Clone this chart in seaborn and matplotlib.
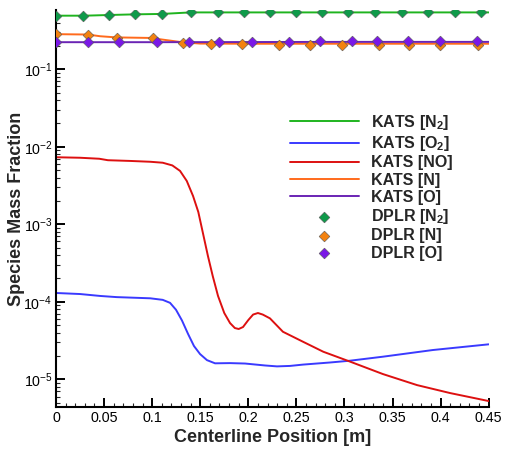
import numpy as np
import matplotlib
matplotlib.use("Agg")
import matplotlib.pyplot as plt
from matplotlib.ticker import LogLocator, MultipleLocator, NullFormatter
import seaborn as sns

# ---- KATS centerline profiles (solid lines) ----
kats_n2_x = [0.0, 0.03, 0.055, 0.083, 0.11, 0.14, 0.17, 0.45]
kats_n2_y = [0.490, 0.490, 0.500, 0.510, 0.516, 0.540, 0.540, 0.540]

kats_o2_x = [0.0, 0.025, 0.046, 0.063, 0.098, 0.111, 0.1186, 0.1248, 0.131, 0.1373,
             0.1435, 0.1498, 0.157, 0.1654, 0.181, 0.1966, 0.2174, 0.2298, 0.2434,
             0.2569, 0.285, 0.3058, 0.340, 0.392, 0.45]
kats_o2_y = [1.30e-4, 1.26e-4, 1.19e-4, 1.15e-4, 1.11e-4, 1.06e-4, 9.7e-5, 7.9e-5,
             5.75e-5, 3.86e-5, 2.69e-5, 2.12e-5, 1.77e-5, 1.61e-5, 1.62e-5, 1.60e-5,
             1.51e-5, 1.47e-5, 1.49e-5, 1.55e-5, 1.65e-5, 1.74e-5, 1.96e-5, 2.39e-5,
             2.83e-5]

kats_no_x = [0.0, 0.025, 0.045, 0.054, 0.077, 0.098, 0.111, 0.121, 0.129, 0.136,
             0.1425, 0.148, 0.153, 0.158, 0.163, 0.1685, 0.175, 0.181, 0.186, 0.190,
             0.1945, 0.200, 0.205, 0.210, 0.215, 0.2225, 0.236, 0.257, 0.278, 0.306,
             0.340, 0.3755, 0.410, 0.45]
kats_no_y = [7.32e-3, 7.21e-3, 7.00e-3, 6.70e-3, 6.56e-3, 6.40e-3, 6.22e-3, 5.74e-3,
             4.88e-3, 3.62e-3, 2.32e-3, 1.44e-3, 7.50e-4, 3.90e-4, 2.15e-4, 1.19e-4,
             7.17e-5, 5.32e-5, 4.59e-5, 4.46e-5, 4.73e-5, 5.82e-5, 6.85e-5, 7.17e-5,
             6.85e-5, 6.12e-5, 4.11e-5, 3.05e-5, 2.27e-5, 1.69e-5, 1.17e-5, 8.43e-6,
             6.65e-6, 5.25e-6]

kats_n_x = [0.0, 0.033, 0.046, 0.063, 0.098, 0.132, 0.15, 0.20, 0.45]
kats_n_y = [0.283, 0.280, 0.266, 0.257, 0.253, 0.222, 0.214, 0.213, 0.213]

kats_o_x = [0.0, 0.10, 0.20, 0.30, 0.45]
kats_o_y = [0.223, 0.223, 0.224, 0.225, 0.225]

# ---- DPLR reference solution (diamond symbols) ----
dplr_n2_x = [0.0, 0.0277, 0.055, 0.0825, 0.11, 0.140, 0.168, 0.195, 0.223, 0.250,
             0.277, 0.304, 0.332, 0.360, 0.387, 0.415, 0.442]
dplr_n2_y = [0.492, 0.490, 0.502, 0.511, 0.517, 0.544, 0.544, 0.544, 0.540, 0.540,
             0.540, 0.540, 0.540, 0.540, 0.540, 0.540, 0.540]

dplr_n_x = [0.0, 0.033, 0.063, 0.101, 0.132, 0.161, 0.193, 0.232, 0.264, 0.297,
            0.336, 0.367, 0.399, 0.439]
dplr_n_y = [0.283, 0.280, 0.256, 0.251, 0.220, 0.210, 0.210, 0.204, 0.204, 0.206,
            0.204, 0.204, 0.204, 0.204]

dplr_o_x = [0.0, 0.033, 0.066, 0.105, 0.138, 0.170, 0.204, 0.242, 0.275, 0.308,
            0.334, 0.366, 0.399, 0.438]
dplr_o_y = [0.222, 0.222, 0.222, 0.222, 0.225, 0.225, 0.225, 0.227, 0.229, 0.229,
            0.231, 0.231, 0.231, 0.231]

line_labels = ["KATS [N$_\\mathbf{2}$]", "KATS [O$_\\mathbf{2}$]", "KATS [NO]",
               "KATS [N]", "KATS [O]"]
marker_labels = ["DPLR [N$_\\mathbf{2}$]", "DPLR [N]", "DPLR [O]"]

x_ticks = [0, 0.05, 0.1, 0.15, 0.2, 0.25, 0.3, 0.35, 0.4, 0.45]
x_tick_labels = ["0", "0.05", "0.1", "0.15", "0.2", "0.25", "0.3", "0.35", "0.4", "0.45"]

sns.set_style("ticks")
plt.rcParams["font.family"] = ["Liberation Sans", "DejaVu Sans"]
plt.rcParams["mathtext.fontset"] = "custom"
plt.rcParams["mathtext.rm"] = "Liberation Sans"
plt.rcParams["mathtext.bf"] = "Liberation Sans:bold"
plt.rcParams["mathtext.it"] = "Liberation Sans:italic"

W, H = 505, 450
fig = plt.figure(figsize=(W / 100, H / 100), dpi=100)
ax = fig.add_axes([56 / W, 1 - 407 / H, (488.7 - 56) / W, (407 - 10) / H])

lw = 1.4
line_colors = ["#1fb41f", "#3a3aff", "#dd1010", "#ff6a1c", "#6a24b4"]
series = [(kats_n2_x, kats_n2_y), (kats_o2_x, kats_o2_y), (kats_no_x, kats_no_y),
          (kats_n_x, kats_n_y), (kats_o_x, kats_o_y)]
line_handles = []
for (xs, ys), c in zip(series, line_colors):
    sns.lineplot(x=xs, y=ys, ax=ax, color=c, lw=lw, estimator=None, sort=False,
                 legend=False)
    line_handles.append(ax.get_lines()[-1])

marker_colors = ["#0f9a4a", "#f3820f", "#7a18e6"]
msets = [(dplr_n2_x, dplr_n2_y), (dplr_n_x, dplr_n_y), (dplr_o_x, dplr_o_y)]
marker_handles = []
for (xs, ys), c in zip(msets, marker_colors):
    sns.scatterplot(x=xs, y=ys, ax=ax, marker="D", s=30, color=c,
                    edgecolor="#555555", linewidth=0.4, legend=False, zorder=5)
    marker_handles.append(ax.collections[-1])

ax.set_yscale("log")
ax.set_xlim(0, 0.45)
ax.set_ylim(4.4e-6, 0.58)
ax.set_xticks(x_ticks)
ax.set_xticklabels(x_tick_labels)
ax.xaxis.set_minor_locator(MultipleLocator(0.01))
ax.yaxis.set_major_locator(LogLocator(base=10, numticks=12))
ax.yaxis.set_minor_locator(LogLocator(base=10, subs=np.arange(2, 10), numticks=12))
ax.yaxis.set_minor_formatter(NullFormatter())

for side in ("top", "right"):
    ax.spines[side].set_visible(False)
for side in ("left", "bottom"):
    ax.spines[side].set_linewidth(1.5)
    ax.spines[side].set_color("black")

ax.tick_params(which="major", direction="in", length=6.5, width=1.4, labelsize=10.3,
               pad=3, colors="black")
ax.tick_params(axis="y", which="major", pad=2.5)
ax.tick_params(which="minor", direction="in", length=3.2, width=0.8)
ax.tick_params(top=False, right=False, which="both")
ax.grid(False)

ax.set_xlabel("Centerline Position [m]", fontsize=13, fontweight="bold")
ax.set_ylabel("Species Mass Fraction", fontsize=13, fontweight="bold")
ax.xaxis.set_label_coords(0.5, -0.055)
ax.yaxis.set_label_coords(-0.072, 0.5)

leg = ax.legend(handles=line_handles + marker_handles, labels=line_labels + marker_labels,
                loc="upper left", bbox_to_anchor=(290 / W, 1 - 113 / H),
                bbox_transform=fig.transFigure, frameon=False, borderpad=0,
                borderaxespad=0, handlelength=4.3, handletextpad=0.75,
                labelspacing=0.14, scatterpoints=1,
                prop={"weight": "bold", "size": 11.5})

fig.savefig("out.png", dpi=100)
